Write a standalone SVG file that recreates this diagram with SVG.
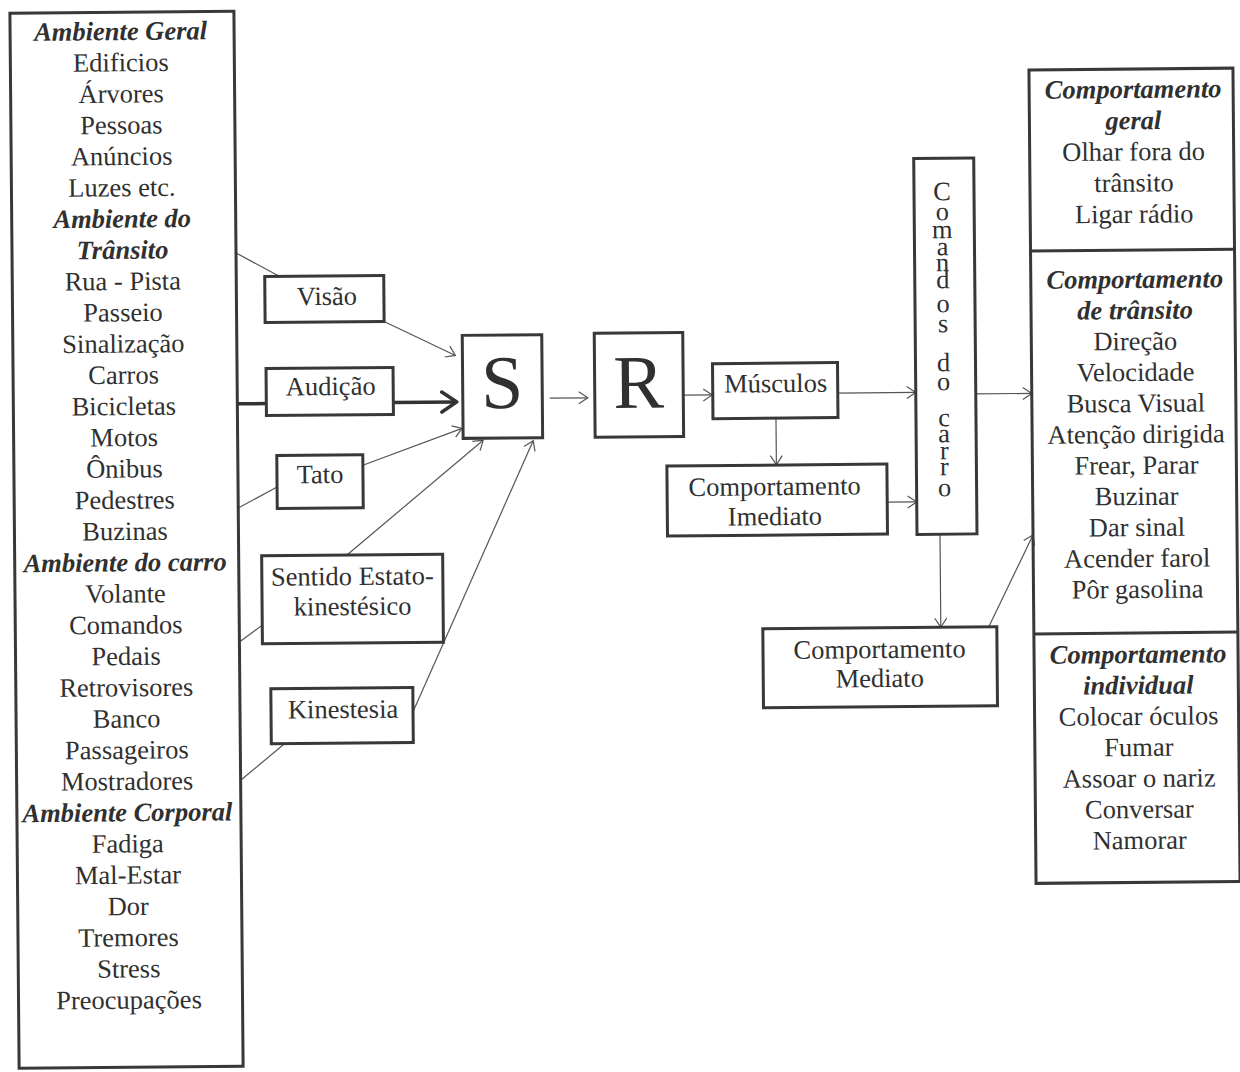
<svg xmlns="http://www.w3.org/2000/svg" width="1240" height="1072" viewBox="0 0 1240 1072">
  <defs>
    <style>
      .box{fill:none;stroke:#383838;stroke-width:3}
      .t{font-family:"Liberation Serif","Times New Roman",serif;font-size:26.5px;fill:#303030;text-anchor:middle}
      .h{font-weight:bold;font-style:italic}
      .big{font-size:76px}
      .ln{fill:none;stroke:#555;stroke-width:1.2}
      .thick{fill:none;stroke:#333;stroke-width:3.5}
    </style>
    <marker id="open" viewBox="0 0 11 14" refX="10" refY="7" markerWidth="11" markerHeight="14" markerUnits="userSpaceOnUse" orient="auto">
      <path d="M1,1 L10,7 L1,13" fill="none" stroke="#555" stroke-width="1.2"/>
    </marker>
    <marker id="bold" viewBox="0 0 20 24" refX="17" refY="12" markerWidth="20" markerHeight="24" markerUnits="userSpaceOnUse" orient="auto">
      <path d="M2,2 L17,12 L2,22" fill="none" stroke="#333" stroke-width="3.5" stroke-linecap="round" stroke-linejoin="round"/>
    </marker>
  </defs>
  <rect width="1240" height="1072" fill="#fff"/>
  <g transform="rotate(-0.5 620 536)">
    <!-- connectors -->
    <g id="connectors">
      <line class="ln" x1="238.5" y1="249.6" x2="282" y2="273.5"/>
      <line class="ln" x1="387" y1="320" x2="457" y2="354" marker-end="url(#open)"/>
      <line class="thick" x1="238.5" y1="400.5" x2="267.5" y2="400.5"/>
      <line class="thick" x1="394.5" y1="400.5" x2="458" y2="400.5" marker-end="url(#bold)"/>
      <line class="ln" x1="238.5" y1="504.7" x2="277.5" y2="484"/>
      <line class="ln" x1="363.5" y1="463" x2="463" y2="427" marker-end="url(#open)"/>
      <line class="ln" x1="238.5" y1="638.7" x2="261.5" y2="622"/>
      <line class="ln" x1="346.8" y1="552.7" x2="484" y2="439" marker-end="url(#open)"/>
      <line class="ln" x1="238.5" y1="777" x2="283" y2="740.6"/>
      <line class="ln" x1="411.5" y1="710" x2="534" y2="440" marker-end="url(#open)"/>
      <line class="ln" x1="551" y1="397.5" x2="589" y2="397.5" marker-end="url(#open)"/>
      <line class="ln" x1="684.5" y1="395.7" x2="713.5" y2="395.7" marker-end="url(#open)"/>
      <line class="ln" x1="839" y1="395" x2="917" y2="395" marker-end="url(#open)"/>
      <line class="ln" x1="777" y1="419.5" x2="777" y2="466" marker-end="url(#open)"/>
      <line class="ln" x1="887.5" y1="504.5" x2="917" y2="504.5" marker-end="url(#open)"/>
      <line class="ln" x1="940" y1="537" x2="940" y2="630" marker-end="url(#open)"/>
      <line class="ln" x1="988" y1="630" x2="1033" y2="538.6" marker-end="url(#open)"/>
      <line class="ln" x1="977" y1="397" x2="1033" y2="397" marker-end="url(#open)"/>
    </g>

    <!-- environment list -->
    <g id="ambiente">
      <rect class="box" x="14.5" y="8" width="224" height="1055"/>
      <text class="t h" x="125" y="35.7">Ambiente Geral</text>
      <text class="t" x="125" y="66.95">Edificios</text>
      <text class="t" x="125" y="98.2">Árvores</text>
      <text class="t" x="125" y="129.45">Pessoas</text>
      <text class="t" x="125" y="160.7">Anúncios</text>
      <text class="t" x="125" y="191.95">Luzes etc.</text>
      <text class="t h" x="125" y="223.2">Ambiente do</text>
      <text class="t h" x="125" y="254.45">Trânsito</text>
      <text class="t" x="125" y="285.7">Rua - Pista</text>
      <text class="t" x="125" y="316.95">Passeio</text>
      <text class="t" x="125" y="348.2">Sinalização</text>
      <text class="t" x="125" y="379.45">Carros</text>
      <text class="t" x="125" y="410.7">Bicicletas</text>
      <text class="t" x="125" y="441.95">Motos</text>
      <text class="t" x="125" y="473.2">Ônibus</text>
      <text class="t" x="125" y="504.45">Pedestres</text>
      <text class="t" x="125" y="535.7">Buzinas</text>
      <text class="t h" x="125" y="566.95">Ambiente do carro</text>
      <text class="t" x="125" y="598.2">Volante</text>
      <text class="t" x="125" y="629.45">Comandos</text>
      <text class="t" x="125" y="660.7">Pedais</text>
      <text class="t" x="125" y="691.95">Retrovisores</text>
      <text class="t" x="125" y="723.2">Banco</text>
      <text class="t" x="125" y="754.45">Passageiros</text>
      <text class="t" x="125" y="785.7">Mostradores</text>
      <text class="t h" x="125" y="816.95">Ambiente Corporal</text>
      <text class="t" x="125" y="848.2">Fadiga</text>
      <text class="t" x="125" y="879.45">Mal-Estar</text>
      <text class="t" x="125" y="910.7">Dor</text>
      <text class="t" x="125" y="941.95">Tremores</text>
      <text class="t" x="125" y="973.2">Stress</text>
      <text class="t" x="125" y="1004.45">Preocupações</text>
    </g>

    <!-- senses -->
    <g id="visao">
      <rect class="box" x="267" y="273.5" width="119" height="46"/>
      <text class="t" x="329" y="302.4">Visão</text>
    </g>
    <g id="audicao">
      <rect class="box" x="267.5" y="365.5" width="127" height="47"/>
      <text class="t" x="332" y="392.5">Audição</text>
    </g>
    <g id="tato">
      <rect class="box" x="277.5" y="452.5" width="86" height="53"/>
      <text class="t" x="320.5" y="480.5">Tato</text>
    </g>
    <g id="estato">
      <rect class="box" x="261.5" y="552.7" width="181" height="88"/>
      <text class="t" x="352" y="582.7">Sentido Estato-</text>
      <text class="t" x="352" y="612.7">kinestésico</text>
    </g>
    <g id="kinestesia">
      <rect class="box" x="269.5" y="685.6" width="142" height="55"/>
      <text class="t" x="341.5" y="715.6">Kinestesia</text>
    </g>

    <!-- stimulus / response -->
    <g id="s">
      <rect class="box" x="464" y="334" width="79.5" height="103"/>
      <text class="t big" x="503.5" y="407">S</text>
    </g>
    <g id="r">
      <rect class="box" x="596" y="333" width="88.5" height="104"/>
      <text class="t big" x="640" y="408">R</text>
    </g>
    <g id="musculos">
      <rect class="box" x="714" y="364.5" width="125" height="55"/>
      <text class="t" x="777" y="393.5">Músculos</text>
    </g>
    <g id="imediato">
      <rect class="box" x="667.5" y="466.4" width="220" height="70"/>
      <text class="t" x="775" y="496.5">Comportamento</text>
      <text class="t" x="775" y="526.5">Imediato</text>
    </g>
    <g id="comandos">
      <rect class="box" x="917" y="161" width="60" height="376"/>
      <text class="t" x="945 945 945 945 945 945 945 945 945 945 945 945 945 945 945 945 945" y="203 223 241 258 274 291 315 335 350 374 393 410 429 445 462 478 499">Comandos do carro</text>
    </g>
    <g id="mediato">
      <rect class="box" x="762" y="630" width="234" height="79"/>
      <text class="t" x="878.5" y="660.3">Comportamento</text>
      <text class="t" x="878.5" y="689.3">Mediato</text>
    </g>

    <!-- behaviour list -->
    <g id="comportamento">
      <rect class="box" x="1033" y="73.5" width="204" height="813.5"/>
      <line class="box" x1="1033" y1="254.5" x2="1237" y2="254.5"/>
      <line class="box" x1="1033" y1="637.5" x2="1237" y2="637.5"/>
      <text class="t h" x="1137" y="102.5">Comportamento</text>
      <text class="t h" x="1137" y="133.7">geral</text>
      <text class="t" x="1137" y="164.9">Olhar fora do</text>
      <text class="t" x="1137" y="196.1">trânsito</text>
      <text class="t" x="1137" y="227.3">Ligar rádio</text>
      <text class="t h" x="1137" y="292.5">Comportamento</text>
      <text class="t h" x="1137" y="323.5">de trânsito</text>
      <text class="t" x="1137" y="354.5">Direção</text>
      <text class="t" x="1137" y="385.5">Velocidade</text>
      <text class="t" x="1137" y="416.5">Busca Visual</text>
      <text class="t" x="1137" y="447.5">Atenção dirigida</text>
      <text class="t" x="1137" y="478.5">Frear, Parar</text>
      <text class="t" x="1137" y="509.5">Buzinar</text>
      <text class="t" x="1137" y="540.5">Dar sinal</text>
      <text class="t" x="1137" y="571.5">Acender farol</text>
      <text class="t" x="1137" y="602.5">Pôr gasolina</text>
      <text class="t h" x="1137" y="667.5">Comportamento</text>
      <text class="t h" x="1137" y="698.5">individual</text>
      <text class="t" x="1137" y="729.5">Colocar óculos</text>
      <text class="t" x="1137" y="760.5">Fumar</text>
      <text class="t" x="1137" y="791.5">Assoar o nariz</text>
      <text class="t" x="1137" y="822.5">Conversar</text>
      <text class="t" x="1137" y="853.5">Namorar</text>
    </g>
  </g>
</svg>
